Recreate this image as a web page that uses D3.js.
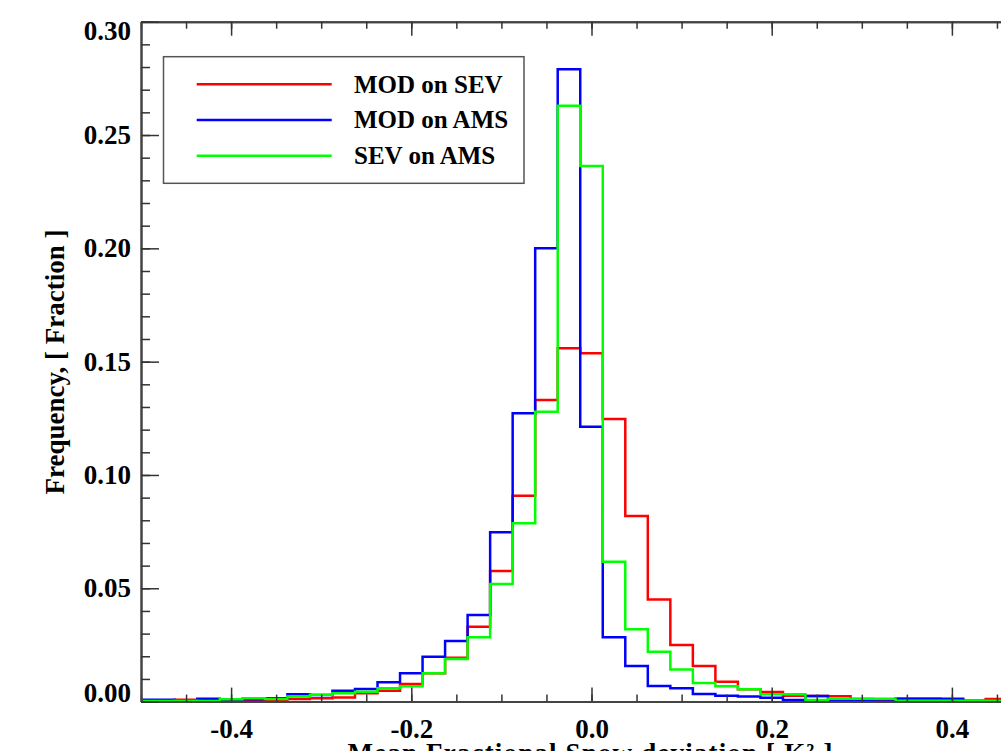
<!DOCTYPE html>
<html>
<head>
<meta charset="utf-8">
<script src="https://cdn.jsdelivr.net/npm/d3@7"></script>
<style>
  html, body { margin: 0; padding: 0; background: #fff; }
  svg { display: block; }
  text { font-family: "Liberation Serif", "Times New Roman", serif; font-weight: bold; fill: #000; }
</style>
</head>
<body>
<svg id="chart" width="1001" height="751"></svg>
<script>
// ---- data ----
const binCenters = [-0.500, -0.475, -0.450, -0.425, -0.400, -0.375, -0.350, -0.325, -0.300, -0.275,
  -0.250, -0.225, -0.200, -0.175, -0.150, -0.125, -0.100, -0.075, -0.050, -0.025,
  0.000, 0.025, 0.050, 0.075, 0.100, 0.125, 0.150, 0.175, 0.200, 0.225,
  0.250, 0.275, 0.300, 0.325, 0.350, 0.375, 0.400, 0.425, 0.450, 0.475, 0.500];

const modOnSev = [0.0005, 0.0005, 0.0008, 0.0004, 0.0003, 0.0005, 0.0005, 0.0012, 0.0015, 0.0018,
  0.0037, 0.0048, 0.0078, 0.0125, 0.0194, 0.0330, 0.0576, 0.0908, 0.1331, 0.1559,
  0.1537, 0.1247, 0.0819, 0.0451, 0.0250, 0.0157, 0.0088, 0.0054, 0.0042, 0.0026,
  0.0025, 0.0024, 0.0012, 0.0008, 0.0013, 0.0013, 0.0008, 0.0004, 0.0012, 0.0008, 0.0005];

const modOnAms = [0.0008, 0.0008, 0.0006, 0.0013, 0.0009, 0.0010, 0.0015, 0.0032, 0.0029, 0.0048,
  0.0056, 0.0085, 0.0125, 0.0198, 0.0267, 0.0382, 0.0747, 0.1272, 0.2000, 0.2790,
  0.1213, 0.0284, 0.0157, 0.0069, 0.0059, 0.0034, 0.0026, 0.0022, 0.0017, 0.0007,
  0.0025, 0.0007, 0.0003, 0.0000, 0.0013, 0.0013, 0.0013, 0.0003, 0.0003, 0.0003, 0.0003];

const sevOnAms = [0.0003, 0.0003, 0.0004, 0.0003, 0.0010, 0.0015, 0.0012, 0.0022, 0.0030, 0.0037,
  0.0044, 0.0059, 0.0068, 0.0125, 0.0188, 0.0284, 0.0519, 0.0787, 0.1279, 0.2629,
  0.2363, 0.0617, 0.0319, 0.0220, 0.0142, 0.0082, 0.0068, 0.0054, 0.0032, 0.0032,
  0.0007, 0.0013, 0.0013, 0.0013, 0.0004, 0.0004, 0.0004, 0.0003, 0.0004, 0.0003, 0.0003];

const seriesNames = ["MOD on SEV", "MOD on AMS", "SEV on AMS"];
const seriesColors = ["#ff0000", "#0000ff", "#00ff00"];
const xTickValues = [-0.4, -0.2, 0.0, 0.2, 0.4];
const xTickLabels = ["-0.4", "-0.2", "0.0", "0.2", "0.4"];
const yTickValues = [0.00, 0.05, 0.10, 0.15, 0.20, 0.25, 0.30];
const yTickLabels = ["0.00", "0.05", "0.10", "0.15", "0.20", "0.25", "0.30"];
const xTitle = "Mean Fractional Snow deviation [ K\u00B2 ]";
const yTitle = "Frequency, [ Fraction ]";

// ---- layout ----
const svg = d3.select("#chart");
const pLeft = 141, pRight = 1042, pTop = 21.7, pBottom = 701.6;
const x = d3.scaleLinear().domain([-0.5, 0.5]).range([pLeft, pRight]);
const y = d3.scaleLinear().domain([0, 0.30]).range([pBottom, pTop]);

svg.append("defs").append("clipPath").attr("id", "plotclip")
  .append("rect").attr("x", pLeft).attr("y", pTop - 2).attr("width", pRight - pLeft).attr("height", pBottom - pTop + 2);

// ---- histograms (step lines) ----
const halfBin = (binCenters[1] - binCenters[0]) / 2;
function stepPoints(vals) {
  const pts = binCenters.map((c, i) => [c - halfBin, vals[i]]);
  pts.push([binCenters[binCenters.length - 1] + halfBin, vals[vals.length - 1]]);
  return pts;
}
const line = d3.line().x(d => x(d[0])).y(d => y(d[1])).curve(d3.curveStepAfter);
const allSeries = [modOnSev, modOnAms, sevOnAms];
const g = svg.append("g").attr("clip-path", "url(#plotclip)");
allSeries.forEach((vals, i) => {
  g.append("path").attr("d", line(stepPoints(vals)))
    .attr("fill", "none").attr("stroke", seriesColors[i]).attr("stroke-width", 2.5)
    .attr("stroke-linejoin", "miter");
});

// ---- axes ----
const axisColor = "#444";
function styleAxis(sel) {
  sel.select(".domain").attr("stroke", axisColor).attr("stroke-width", 2);
  sel.selectAll(".tick line").attr("stroke", "#333").attr("stroke-width", 1.5);
}
const xMinor = x.ticks(20);
const yMinor = y.ticks(30);
const xFmt = d => xTickLabels[xTickValues.indexOf(d)];
const yFmt = d => yTickLabels[yTickValues.indexOf(d)];

// bottom
const bAxis = svg.append("g").attr("transform", `translate(0,${pBottom})`)
  .call(d3.axisBottom(x).tickValues(xTickValues).tickSizeInner(-14).tickSizeOuter(0)
    .tickPadding(17).tickFormat(xFmt));
svg.append("g").attr("transform", `translate(0,${pBottom})`)
  .call(d3.axisBottom(x).tickValues(xMinor).tickSizeInner(-7).tickSizeOuter(0).tickFormat(""))
  .call(styleAxis);
bAxis.call(styleAxis);
bAxis.selectAll("text").attr("font-size", 27).attr("font-family", "Liberation Serif").attr("font-weight", "bold");

// top
svg.append("g").attr("transform", `translate(0,${pTop})`)
  .call(d3.axisTop(x).tickValues(xTickValues).tickSizeInner(-14).tickSizeOuter(0).tickFormat(""))
  .call(styleAxis);
svg.append("g").attr("transform", `translate(0,${pTop})`)
  .call(d3.axisTop(x).tickValues(xMinor).tickSizeInner(-7).tickSizeOuter(0).tickFormat(""))
  .call(styleAxis);

// left
const lAxis = svg.append("g").attr("transform", `translate(${pLeft},0)`)
  .call(d3.axisLeft(y).tickValues(yTickValues).tickSizeInner(-18).tickSizeOuter(0)
    .tickPadding(10).tickFormat(yFmt));
svg.append("g").attr("transform", `translate(${pLeft},0)`)
  .call(d3.axisLeft(y).tickValues(yMinor).tickSizeInner(-9).tickSizeOuter(0).tickFormat(""))
  .call(styleAxis);
lAxis.call(styleAxis);
lAxis.selectAll("text").attr("font-size", 27).attr("font-family", "Liberation Serif").attr("font-weight", "bold");
lAxis.selectAll(".tick").filter(d => d === 0.30).select("text").attr("y", 9);
lAxis.selectAll(".tick").filter(d => d === 0).select("text").attr("y", -9);

// right
svg.append("g").attr("transform", `translate(${pRight},0)`)
  .call(d3.axisRight(y).tickValues(yTickValues).tickSizeInner(-18).tickSizeOuter(0).tickFormat(""))
  .call(styleAxis);

// ---- titles ----
svg.append("text").attr("x", 590).attr("y", 762)
  .attr("text-anchor", "middle").attr("font-size", 27)
  .attr("textLength", 485).attr("lengthAdjust", "spacing").text(xTitle);
svg.append("text").attr("transform", `translate(64,${362}) rotate(-90)`)
  .attr("text-anchor", "middle").attr("font-size", 27).text(yTitle);

// ---- legend ----
const leg = svg.append("g");
leg.append("rect").attr("x", 163.5).attr("y", 56.7).attr("width", 360.5).attr("height", 126.6)
  .attr("fill", "#fff").attr("stroke", "#555").attr("stroke-width", 1.5);
const legY = [84.3, 120, 155.7];
seriesNames.forEach((name, i) => {
  leg.append("line").attr("x1", 196.7).attr("x2", 331.7).attr("y1", legY[i]).attr("y2", legY[i])
    .attr("stroke", seriesColors[i]).attr("stroke-width", 2.5);
  leg.append("text").attr("x", 354).attr("y", legY[i] + 8.3).attr("font-size", 25).text(name);
});
</script>
</body>
</html>
